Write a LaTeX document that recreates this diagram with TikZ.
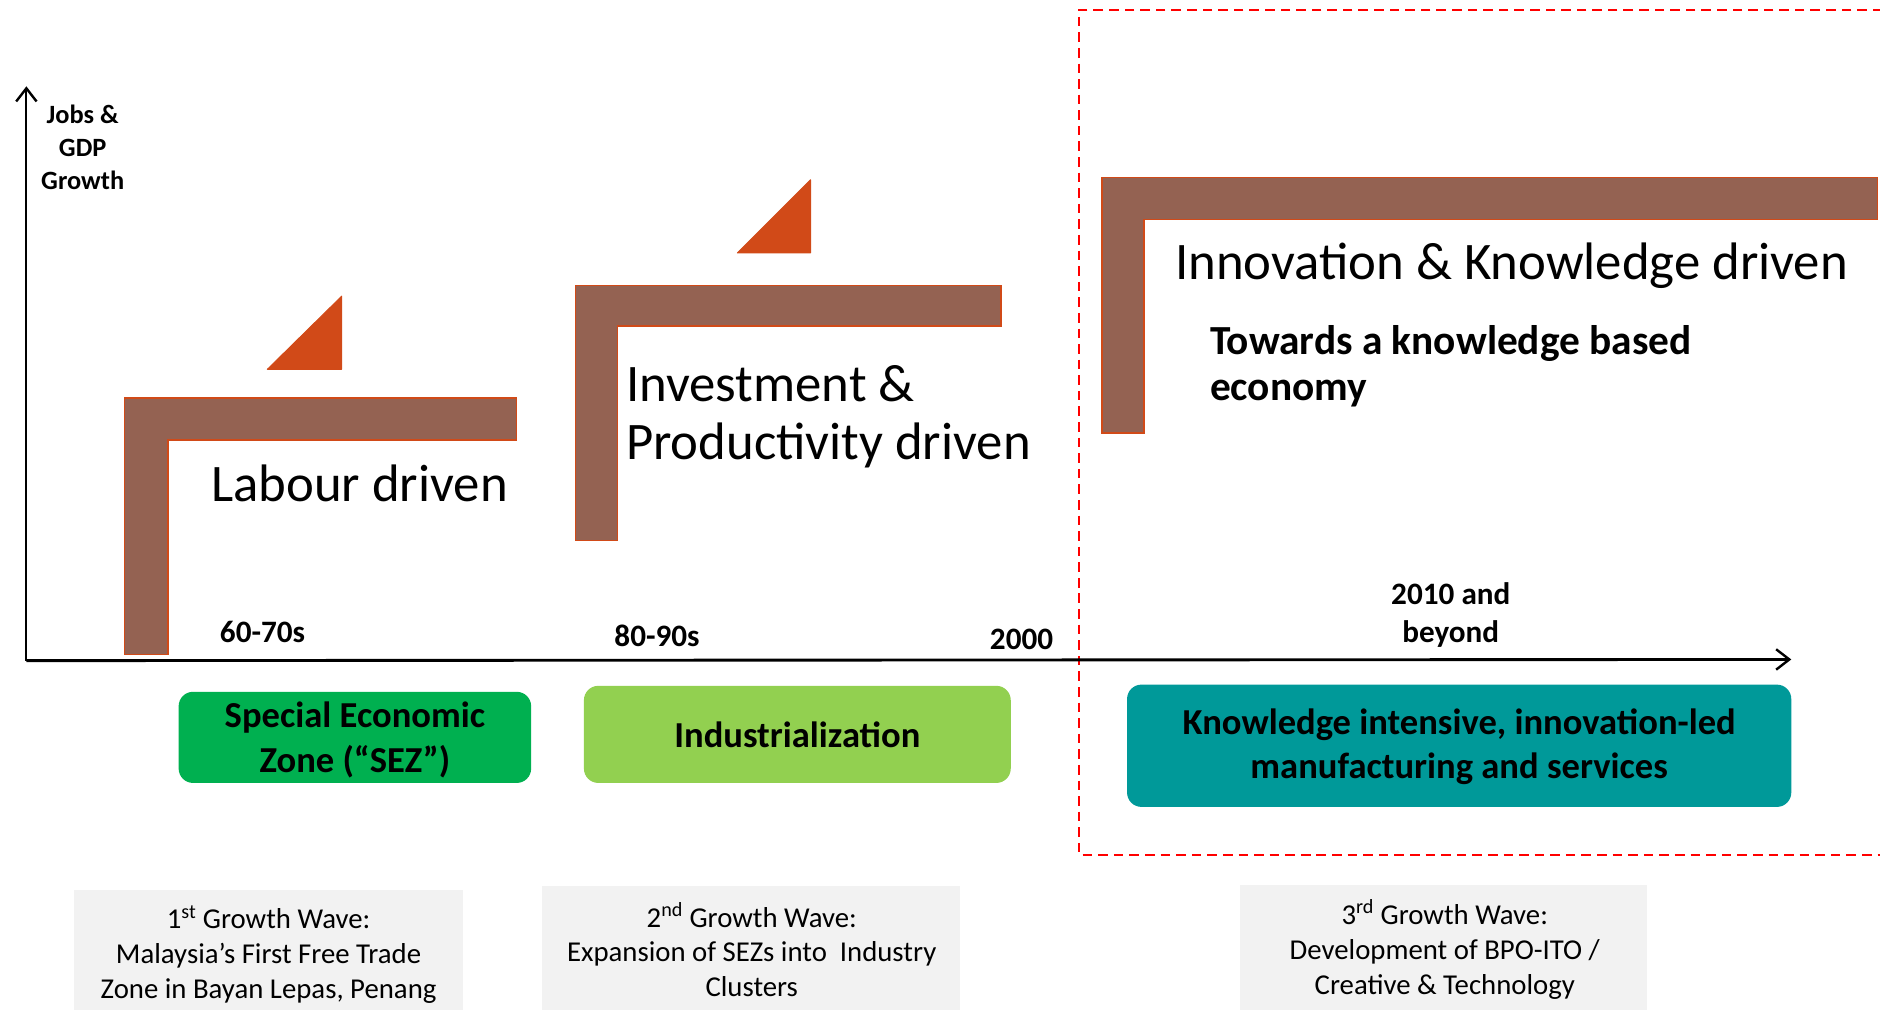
\documentclass[tikz,border=0pt]{standalone}
\usepackage{fontspec}
\setmainfont{Carlito}
\usetikzlibrary{arrows.meta}
\definecolor{lbrown}{RGB}{148,98,82}
\definecolor{lorange}{RGB}{209,74,24}
\definecolor{sezgreen}{RGB}{0,176,80}
\definecolor{indgreen}{RGB}{146,208,80}
\definecolor{knteal}{RGB}{0,153,153}
\definecolor{wavegrey}{RGB}{242,242,242}
\definecolor{zonered}{RGB}{255,0,0}
\begin{document}
\begin{tikzpicture}[x=1pt,y=-1pt,
  lshape/.style={fill=lbrown, draw=lorange, line width=1.2pt},
  rise/.style={fill=lorange, draw=lorange, line width=0.8pt, line join=round},
  axisline/.style={-{Straight Barb[length=11pt,width=17pt,line width=2pt]}},
  bigtxt/.style={inner sep=0pt, font=\fontsize{44}{49}\selectfont, align=left},
  yeartxt/.style={inner sep=0pt, font=\bfseries\fontsize{26}{31}\selectfont, align=center},
  phasebox/.style={rounded corners=12pt, inner sep=0pt},
  phasetxt/.style={inner sep=0pt, align=center, font=\bfseries\fontsize{30.5}{37}\selectfont},
  wavebox/.style={fill=wavegrey, inner sep=0pt},
  wavetxt/.style={inner sep=0pt, align=center, font=\fontsize{24}{29}\selectfont},
  zone/.style={draw=zonered, line width=1.8pt, dash pattern=on 8pt off 5pt}
]
\useasboundingbox (0,0) rectangle (1568,842);

% dashed zone
\draw[zone] (1570,8) -- (900,8) -- (900,713) -- (1570,713);

% axes
\coordinate (O) at (22,551);
\coordinate (ytop) at (22,72);
\coordinate (xend) at (1494,550);
\draw[axisline, line width=1.8pt] (O) -- (ytop);
\draw[axisline, line width=2.4pt] (O) -- (xend);
\node[inner sep=0pt, align=center, font=\bfseries\fontsize{22}{27.5}\selectfont] (ylab) at (69,123) {Jobs \&\\GDP\\Growth};

% L shapes and rise triangles
\draw[lshape] (104,332) -- (431,332) -- (431,367) -- (140,367) -- (140,546) -- (104,546) -- cycle;
\draw[rise] (223,308) -- (285,308) -- (285,247) -- cycle;
\draw[lshape] (480,238) -- (835,238) -- (835,272) -- (515,272) -- (515,451) -- (480,451) -- cycle;
\draw[rise] (615,211) -- (676,211) -- (676,150) -- cycle;
\draw[lshape] (919,148) -- (1566,148) -- (1566,183) -- (954,183) -- (954,361) -- (919,361) -- cycle;

% stage labels
\node[bigtxt, anchor=base west] (lab1) at (176,418) {Labour driven};
\node[bigtxt, anchor=base west] (lab2a) at (522,335) {Investment \&};
\node[bigtxt, anchor=base west] (lab2b) at (522,383) {Productivity driven};
\node[bigtxt, anchor=base west] (lab3) at (980,233) {Innovation \& Knowledge driven};
\node[inner sep=0pt, anchor=base west, font=\bfseries\fontsize{34.5}{38}\selectfont] (tow1) at (1009,296) {Towards a knowledge based};
\node[inner sep=0pt, anchor=base west, font=\bfseries\fontsize{34.5}{38}\selectfont] (tow2) at (1009,334) {economy};

% years
\node[yeartxt] (y1) at (219,527) {60-70s};
\node[yeartxt] (y2) at (548,530) {80-90s};
\node[yeartxt] (y3) at (852,533) {2000};
\node[yeartxt] (y4) at (1210,513) {2010 and\\beyond};

% phase boxes
\node[phasebox, fill=sezgreen, minimum width=294pt, minimum height=76pt] (sez) at (296,615) {};
\node[phasetxt] (sezt) at (296,617) {Special Economic\\Zone (“SEZ”)};
\node[phasebox, fill=indgreen, minimum width=356pt, minimum height=81pt] (ind) at (665,612.5) {};
\node[phasetxt] (indt) at (665,613) {Industrialization};
\node[phasebox, fill=knteal, minimum width=554pt, minimum height=102pt] (kn) at (1217,622) {};
\node[phasetxt] (knt) at (1217,623) {Knowledge intensive, innovation-led\\manufacturing and services};

% wave boxes
\node[wavebox, minimum width=324pt, minimum height=102pt] (w1) at (224,793) {};
\node[wavetxt] (w1t) at (224,796) {1\textsuperscript{st} Growth Wave:\\Malaysia’s First Free Trade\\Zone in Bayan Lepas, Penang};
\node[wavebox, minimum width=349pt, minimum height=105pt] (w2) at (626.5,791.5) {};
\node[wavetxt] (w2t) at (627,792) {2\textsuperscript{nd} Growth Wave:\\Expansion of SEZs into\ \ Industry\\Clusters};
\node[wavebox, minimum width=340pt, minimum height=106pt] (w3) at (1204,791) {};
\node[wavetxt] (w3t) at (1205,792) {3\textsuperscript{rd} Growth Wave:\\Development of BPO-ITO /\\Creative \& Technology};
\end{tikzpicture}
\end{document}
